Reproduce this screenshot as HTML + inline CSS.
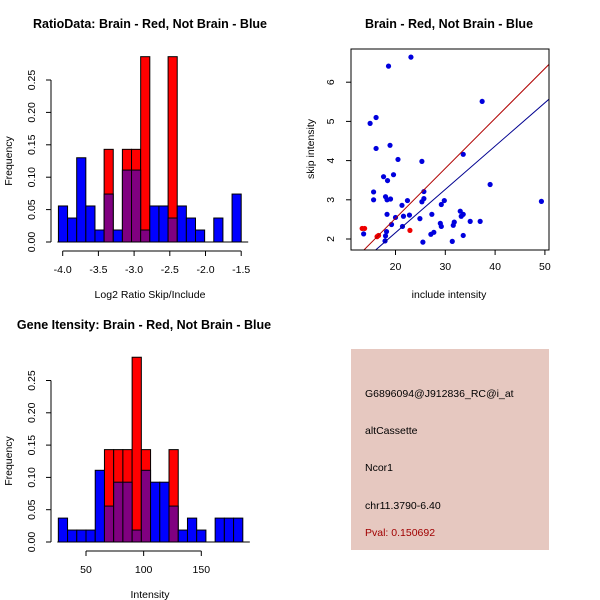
<!DOCTYPE html>
<html><head><meta charset="utf-8"><style>
body{margin:0;background:#fff;}
svg{display:block;font-family:"Liberation Sans",sans-serif;}
</style></head><body>
<svg id="s" width="600" height="600" viewBox="0 0 600 600" xmlns="http://www.w3.org/2000/svg">
<rect width="600" height="600" fill="#fff"/>
<text x="150" y="28" text-anchor="middle" font-weight="bold" font-size="12.5">RatioData: Brain - Red, Not Brain - Blue</text>
<text x="449" y="28" text-anchor="middle" font-weight="bold" font-size="12.5">Brain - Red, Not Brain - Blue</text>
<text x="144" y="329" text-anchor="middle" font-weight="bold" font-size="12.5">Gene Itensity: Brain - Red, Not Brain - Blue</text>
<text x="150" y="298" text-anchor="middle" font-size="10.5">Log2 Ratio Skip/Include</text>
<text x="150" y="598" text-anchor="middle" font-size="10.5">Intensity</text>
<text x="449" y="298" text-anchor="middle" font-size="10.5">include intensity</text>
<text transform="translate(12,161) rotate(-90)" text-anchor="middle" font-size="10.5">Frequency</text>
<text transform="translate(12,461) rotate(-90)" text-anchor="middle" font-size="10.5">Frequency</text>
<text transform="translate(314,149) rotate(-90)" text-anchor="middle" font-size="10.5">skip intensity</text>
<g>
<rect x="351" y="349" width="198" height="201" fill="#e6c8c0"/>
<text x="365" y="397" font-size="10.5">G6896094@J912836_RC@i_at</text>
<text x="365" y="434" font-size="10.5">altCassette</text>
<text x="365" y="471" font-size="10.5">Ncor1</text>
<text x="365" y="509" font-size="10.5">chr11.3790-6.40</text>
<text x="365" y="536" font-size="10.5" fill="#a00000">Pval: 0.150692</text>
</g>
</svg>
<script>
// Ratio histogram data
const ratioBreakStart = -4.06;
const ratioBinWidth = 0.128;
const ratioBlue = [0.0556,0.037,0.13,0.0556,0.0185,0.074,0.0185,0.111,0.111,0.0185,0.0556,0.0556,0.037,0.0556,0.037,0.0185,0,0.037,0,0.074];
const ratioRed  = [0,0,0,0,0,0.143,0,0.143,0.143,0.286,0,0,0.286,0,0,0,0,0,0,0];
const ratioXTicks = [-4.0,-3.5,-3.0,-2.5,-2.0,-1.5];
const ratioXTickLabels = ["-4.0","-3.5","-3.0","-2.5","-2.0","-1.5"];
// Intensity histogram data
const intBreakStart = 26;
const intBinWidth = 8;
const intBlue = [0.037,0.0185,0.0185,0.0185,0.111,0.0556,0.0926,0.0926,0.0185,0.111,0.0926,0.0926,0.0556,0.0185,0.037,0.0185,0,0.037,0.037,0.037];
const intRed  = [0,0,0,0,0,0.143,0.143,0.143,0.286,0.143,0,0,0.143,0,0,0,0,0,0,0];
const intXTicks = [50,100,150];
const intXTickLabels = ["50","100","150"];
const freqTicks = [0,0.05,0.10,0.15,0.20,0.25];
const freqTickLabels = ["0.00","0.05","0.10","0.15","0.20","0.25"];
// Scatter data
const blueX = [13.6,14.9,16.1,16.1,18.6,23.1,18.9,20.5,15.6,15.6,17.6,18.4,19.6,18.0,18.3,19.0,18.3,19.2,18.2,18.0,17.9,20.0,21.3,22.4,21.6,21.4,22.8,25.3,25.7,25.3,25.7,24.9,25.5,27.3,27.1,27.7,29.2,29.8,29.0,29.2,31.4,31.6,31.8,33.0,33.2,33.6,33.6,33.6,35.0,37.0,37.4,39.0,49.3];
const blueY = [2.13,4.95,5.10,4.31,6.41,6.64,4.39,4.03,3.20,3.00,3.59,3.49,3.64,3.08,3.00,3.02,2.63,2.37,2.19,2.08,1.95,2.55,2.86,2.98,2.58,2.32,2.61,3.98,3.21,2.95,3.03,2.52,1.92,2.63,2.12,2.17,2.88,2.98,2.40,2.32,1.94,2.35,2.43,2.71,2.58,2.63,4.16,2.09,2.45,2.45,5.51,3.39,2.96];
const redX = [13.3,13.8,16.3,16.6,22.9];
const redY = [2.27,2.27,2.06,2.09,2.22];
const redFit = [-0.02,0.1274];
const blueFit = [-0.05,0.1105];
const scXTicks = [20,30,40,50];
const scYTicks = [2,3,4,5,6];

const NS='http://www.w3.org/2000/svg';
const svg=document.getElementById('s');
function mk(tag,attrs,parent){const e=document.createElementNS(NS,tag);for(const k in attrs)e.setAttribute(k,attrs[k]);(parent||svg).appendChild(e);return e;}

function hist(opt){
  const g=mk('g',{});
  
  
  const y=v=>opt.y0-v*opt.ys;
  const x=v=>opt.x0+(v-opt.xv0)*opt.xs;
  for(let i=0;i<opt.red.length;i++){
    const a=opt.bs+i*opt.bw,b=a+opt.bw;
    if(opt.red[i]>0){
      const r=mk('rect',{x:x(a),y:y(opt.red[i]),width:x(b)-x(a),height:opt.red[i]*opt.ys,fill:'#ff0000',stroke:'#000','stroke-width':1},g);
      
      
    }
  }
  for(let i=0;i<opt.blue.length;i++){
    const a=opt.bs+i*opt.bw,b=a+opt.bw;
    if(opt.blue[i]>0){
      const r=mk('rect',{x:x(a),y:y(opt.blue[i]),width:x(b)-x(a),height:opt.blue[i]*opt.ys,fill:opt.red[i]>0?'#800080':'#0000ff',stroke:'#000','stroke-width':1},g);
      
      
    }
  }
  // baseline
  mk('line',{x1:x(opt.bs)-1,x2:x(opt.bs+opt.bw*opt.blue.length)+7,y1:opt.y0,y2:opt.y0,stroke:'#000'},g);
  // y axis
  mk('line',{x1:51,x2:51,y1:y(0),y2:y(0.25),stroke:'#000'},g);
  freqTicks.forEach((t,i)=>{
    mk('line',{x1:46,x2:51,y1:y(t),y2:y(t),stroke:'#000'},g);
    const tx=mk('text',{transform:`translate(35,${y(t)}) rotate(-90)`,'text-anchor':'middle','font-size':10.5},g);
    tx.textContent=freqTickLabels[i];
    
    
  });
  // x axis
  const ay=opt.y0+9;
  mk('line',{x1:x(opt.xt[0]),x2:x(opt.xt[opt.xt.length-1]),y1:ay,y2:ay,stroke:'#000'},g);
  opt.xt.forEach((t,i)=>{
    mk('line',{x1:x(t),x2:x(t),y1:ay,y2:ay+5,stroke:'#000'},g);
    const tx=mk('text',{x:x(t),y:ay+22,'text-anchor':'middle','font-size':10.5},g);
    tx.textContent=opt.xl[i];
    
    
  });
}
hist({name:'ratio-histogram',red:ratioRed,blue:ratioBlue,bs:ratioBreakStart,bw:ratioBinWidth,y0:242,ys:648,x0:62.7,xv0:-4,xs:71.4,xt:ratioXTicks,xl:ratioXTickLabels});
hist({name:'intensity-histogram',red:intRed,blue:intBlue,bs:intBreakStart,bw:intBinWidth,y0:542,ys:646,x0:86,xv0:50,xs:1.153,xt:intXTicks,xl:intXTickLabels});

// scatter
(function(){
  const g=mk('g',{});
  
  
  const X=v=>395.5+(v-20)*4.98, Y=v=>239-(v-2)*39.2;
  const L=351,R=549,T=49,B=250;
  mk('clipPath',{id:'cp'},g).appendChild(Object.assign(document.createElementNS(NS,'rect'),{}));
  const cr=g.querySelector('#cp rect');cr.setAttribute('x',L);cr.setAttribute('y',T);cr.setAttribute('width',R-L);cr.setAttribute('height',B-T);
  for(let i=0;i<blueX.length;i++){
    const c=mk('circle',{cx:X(blueX[i]),cy:Y(blueY[i]),r:2.6,fill:'#0000dd'},g);
    
    
  }
  for(let i=0;i<redX.length;i++){
    const c=mk('circle',{cx:X(redX[i]),cy:Y(redY[i]),r:2.6,fill:'#ee0000'},g);
    
    
  }
  const x1=0,x2=60;
  const rl=mk('line',{x1:X(x1),y1:Y(redFit[0]+redFit[1]*x1),x2:X(x2),y2:Y(redFit[0]+redFit[1]*x2),stroke:'#b00000','stroke-width':1,'clip-path':'url(#cp)'},g);
  
  
  const bl=mk('line',{x1:X(x1),y1:Y(blueFit[0]+blueFit[1]*x1),x2:X(x2),y2:Y(blueFit[0]+blueFit[1]*x2),stroke:'#000090','stroke-width':1,'clip-path':'url(#cp)'},g);
  
  
  mk('rect',{x:L,y:T,width:R-L,height:B-T,fill:'none',stroke:'#000'},g);
  scXTicks.forEach(t=>{
    mk('line',{x1:X(t),x2:X(t),y1:B,y2:B+5,stroke:'#000'},g);
    const tx=mk('text',{x:X(t),y:B+20,'text-anchor':'middle','font-size':10.5},g);
    tx.textContent=String(t);
    
    
  });
  scYTicks.forEach(t=>{
    mk('line',{x1:L-5,x2:L,y1:Y(t),y2:Y(t),stroke:'#000'},g);
    const tx=mk('text',{transform:`translate(334,${Y(t)}) rotate(-90)`,'text-anchor':'middle','font-size':10.5},g);
    tx.textContent=String(t);
    
    
  });
})();
</script>
</body></html>
